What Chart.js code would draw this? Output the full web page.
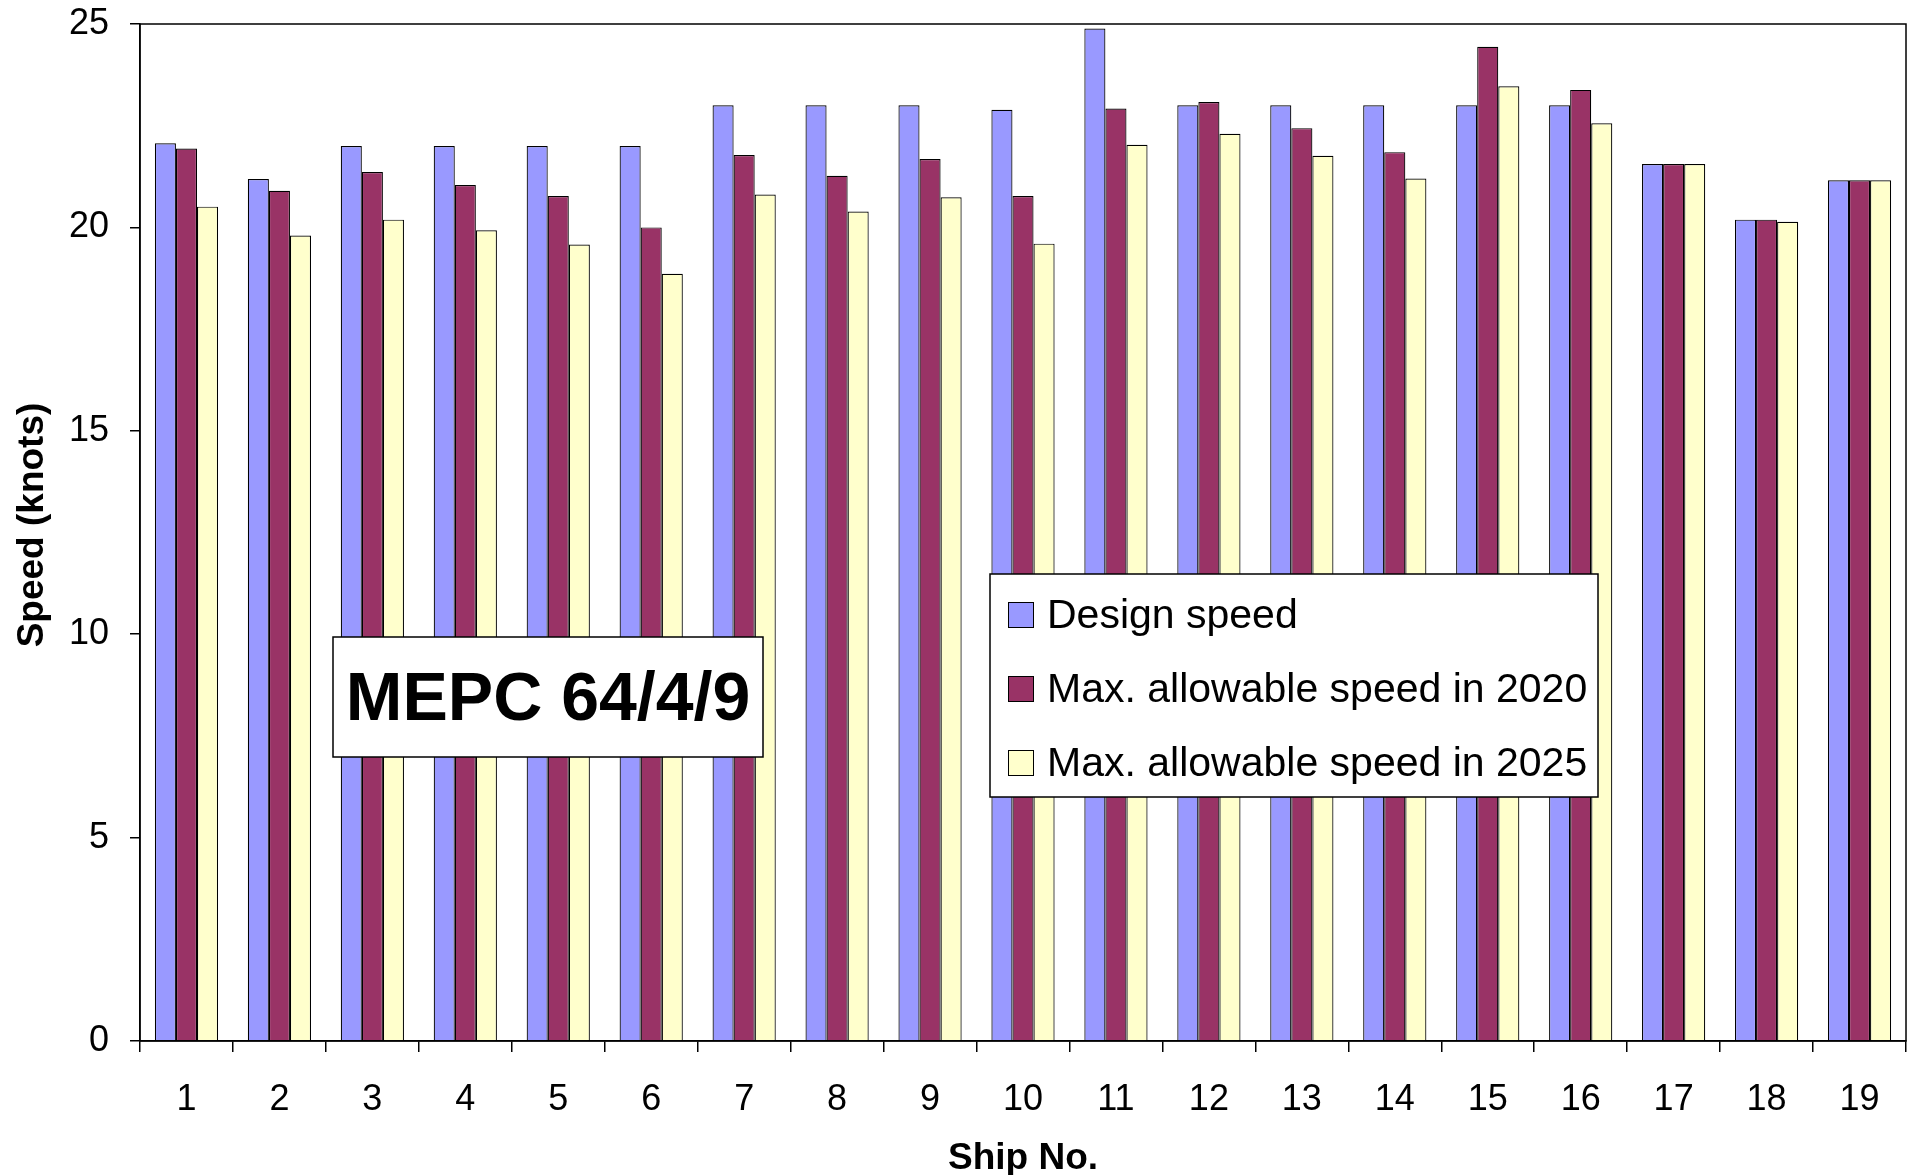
<!DOCTYPE html>
<html>
<head>
<meta charset="utf-8">
<title>Ship speeds</title>
<script src="https://cdn.jsdelivr.net/npm/chart.js@4.4.1/dist/chart.umd.min.js"></script>
<style>
  html, body { margin: 0; padding: 0; background: #fff; }
  #wrap { width: 1908px; height: 1175px; position: relative; }
</style>
</head>
<body>
<div id="wrap"><canvas id="speedChart" width="1908" height="1175"></canvas></div>
<script>
// Ship numbers on the category axis
const ships = ['1','2','3','4','5','6','7','8','9','10','11','12','13','14','15','16','17','18','19'];

// Speeds in knots per ship
const designSpeed   = [22.07, 21.19, 22.0, 22.0, 22.0, 22.0, 23.0, 23.0, 23.0, 22.89, 24.89, 23.0, 23.0, 23.0, 23.0, 23.0, 21.56, 20.19, 21.16];
const maxSpeed2020  = [21.94, 20.90, 21.36, 21.04, 20.77, 20.0, 21.78, 21.27, 21.68, 20.77, 22.92, 23.08, 22.44, 21.85, 24.44, 23.38, 21.56, 20.19, 21.16];
const maxSpeed2025  = [20.51, 19.80, 20.19, 19.93, 19.58, 18.86, 20.81, 20.39, 20.74, 19.60, 22.03, 22.30, 21.76, 21.20, 23.47, 22.56, 21.56, 20.14, 21.16];

const seriesNames  = ['Design speed', 'Max. allowable speed in 2020', 'Max. allowable speed in 2025'];
const seriesColors = ['#9999FF', '#993366', '#FFFFCC'];

// Value-axis ticks
const speedTicks = [0, 5, 10, 15, 20, 25];

const noteText = 'MEPC 64/4/9';
const xTitle = 'Ship No.';
const yTitle = 'Speed (knots)';

const FONT = '"Liberation Sans", Arial, Helvetica, sans-serif';

// Plot frame (top and right edges complete the box) and the rotated value-axis title
const framePlugin = {
  id: 'plotFrame',
  afterDraw(chart, args, opts) {
    const { ctx, chartArea: a } = chart;
    ctx.save();
    ctx.strokeStyle = '#000';
    ctx.lineWidth = 1.5;
    ctx.strokeRect(a.left, a.top, a.right - a.left, a.bottom - a.top);

    ctx.translate(opts.titleX, opts.titleY);
    ctx.rotate(-Math.PI / 2);
    ctx.fillStyle = '#000';
    ctx.font = 'bold ' + opts.titleSize + 'px ' + FONT;
    ctx.textAlign = 'center';
    ctx.textBaseline = 'middle';
    ctx.fillText(opts.title, 0, 0);
    ctx.restore();
  }
};

// Boxed note and the floating legend drawn over the bars
const overlayPlugin = {
  id: 'overlays',
  afterDatasetsDraw(chart, args, opts) {
    const ctx = chart.ctx;
    ctx.save();

    // note box
    const n = opts.note;
    ctx.fillStyle = '#fff';
    ctx.fillRect(n.x, n.y, n.w, n.h);
    ctx.strokeStyle = '#000';
    ctx.lineWidth = 1.5;
    ctx.strokeRect(n.x, n.y, n.w, n.h);
    ctx.fillStyle = '#000';
    ctx.font = 'bold ' + n.size + 'px ' + FONT;
    ctx.textAlign = 'center';
    ctx.textBaseline = 'alphabetic';
    ctx.fillText(n.text, n.x + n.w / 2, n.baseline);

    // legend box
    const L = opts.legend;
    ctx.fillStyle = '#fff';
    ctx.fillRect(L.x, L.y, L.w, L.h);
    ctx.strokeStyle = '#000';
    ctx.lineWidth = 1.5;
    ctx.strokeRect(L.x, L.y, L.w, L.h);
    ctx.font = L.size + 'px ' + FONT;
    ctx.textAlign = 'left';
    chart.data.datasets.forEach((ds, i) => {
      const base = L.firstBaseline + i * L.rowStep;
      const top = base - L.swatch;
      ctx.fillStyle = ds.backgroundColor;
      ctx.fillRect(L.swatchX, top, L.swatch, L.swatch);
      ctx.strokeStyle = '#000';
      ctx.lineWidth = 1;
      ctx.strokeRect(L.swatchX + 0.5, top + 0.5, L.swatch - 1, L.swatch - 1);
      ctx.fillStyle = '#000';
      ctx.fillText(ds.label, L.textX, base);
    });
    ctx.restore();
  }
};

const datasets = [designSpeed, maxSpeed2020, maxSpeed2025].map((values, i) => ({
  label: seriesNames[i],
  data: values,
  backgroundColor: seriesColors[i],
  borderColor: '#000',
  borderWidth: 1.2,
  barPercentage: 1.0,
  categoryPercentage: 0.68
}));

Chart.defaults.font.family = FONT;
Chart.defaults.color = '#000';

function noEdgePadding(scale) {
  scale.paddingTop = 0;
  scale.paddingBottom = 0;
  scale.paddingLeft = 0;
  scale.paddingRight = 0;
}

new Chart(document.getElementById('speedChart'), {
  type: 'bar',
  data: { labels: ships, datasets },
  options: {
    responsive: false,
    animation: false,
    devicePixelRatio: 1,
    layout: { padding: { top: 24, right: 2, left: 0, bottom: 0 } },
    plugins: {
      legend: { display: false },
      tooltip: { enabled: false },
      plotFrame: { title: yTitle, titleX: 33, titleY: 525, titleSize: 37 },
      overlays: {
        note: { x: 333, y: 637, w: 430, h: 120, baseline: 720, size: 68, text: noteText },
        legend: { x: 990, y: 574, w: 608, h: 223, swatchX: 1008, swatch: 26, textX: 1047, firstBaseline: 628, rowStep: 74, size: 41 }
      }
    },
    scales: {
      x: {
        afterFit(scale) { scale.height = 134; noEdgePadding(scale); },
        grid: {
          offset: true,
          drawOnChartArea: false,
          drawTicks: true,
          tickLength: 11,
          color: '#000',
          lineWidth: 1.5
        },
        border: { display: true, color: '#000', width: 1.5 },
        ticks: { font: { size: 36 }, padding: 26, maxRotation: 0, autoSkip: false },
        title: {
          display: true,
          text: xTitle,
          font: { size: 37, weight: 'bold', lineHeight: 0.9 },
          padding: { top: 0, bottom: 0 }
        }
      },
      y: {
        min: 0,
        max: 25,
        afterFit(scale) { scale.width = 140; noEdgePadding(scale); },
        afterBuildTicks(scale) { scale.ticks = speedTicks.map(v => ({ value: v })); },
        grid: {
          drawOnChartArea: false,
          drawTicks: true,
          tickLength: 10,
          color: '#000',
          lineWidth: 1.5
        },
        border: { display: true, color: '#000', width: 1.5 },
        ticks: { font: { size: 36 }, padding: 21 }
      }
    }
  },
  plugins: [framePlugin, overlayPlugin]
});
</script>
</body>
</html>
